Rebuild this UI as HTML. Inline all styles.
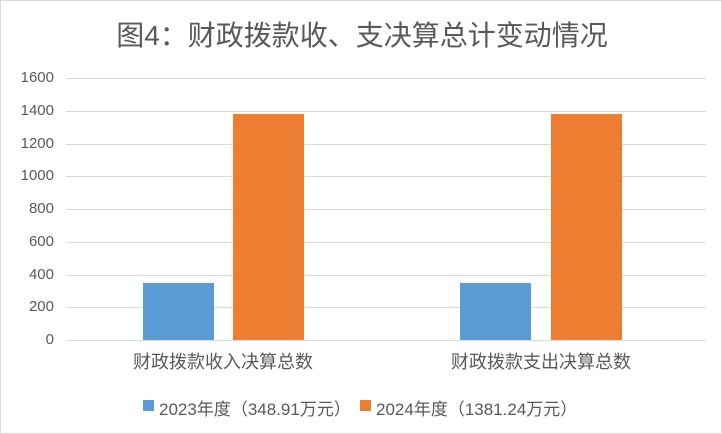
<!DOCTYPE html>
<html><head><meta charset="utf-8"><style>
body{margin:0;background:#fff}
#c{position:relative;width:720px;height:432px;border:1px solid #d9d9d9;background:#fff;overflow:hidden;font-family:"Liberation Sans","Noto Sans CJK SC",sans-serif;color:#595959}
.t{position:absolute;left:0;width:722px;top:13px;text-align:center;font-size:28px;color:#595959}
.g{position:absolute;left:65px;width:640px;height:1px;background:#d9d9d9}
.y{position:absolute;left:0;width:53px;text-align:right;font-size:15px;line-height:16px}
.b{position:absolute}
.x{position:absolute;top:347px;font-size:18px;text-align:center;width:300px}
.l{position:absolute;top:394px;font-size:17px;white-space:nowrap}
</style></head><body><div id="c">
<div class="t">图4：财政拨款收、支决算总计变动情况</div>
<div class="g" style="top:77px"></div><div class="y" style="top:69px">1600</div>
<div class="g" style="top:110px"></div><div class="y" style="top:102px">1400</div>
<div class="g" style="top:143px"></div><div class="y" style="top:135px">1200</div>
<div class="g" style="top:175px"></div><div class="y" style="top:167px">1000</div>
<div class="g" style="top:208px"></div><div class="y" style="top:200px">800</div>
<div class="g" style="top:241px"></div><div class="y" style="top:233px">600</div>
<div class="g" style="top:274px"></div><div class="y" style="top:266px">400</div>
<div class="g" style="top:306px"></div><div class="y" style="top:298px">200</div>
<div class="g" style="top:339px"></div><div class="y" style="top:331px">0</div>
<div class="b" style="left:142px;width:71px;top:282px;height:57px;background:#5b9bd5"></div>
<div class="b" style="left:232px;width:71px;top:113px;height:226px;background:#ed7d31"></div>
<div class="b" style="left:459px;width:71px;top:282px;height:57px;background:#5b9bd5"></div>
<div class="b" style="left:550px;width:71px;top:113px;height:226px;background:#ed7d31"></div>
<div class="x" style="left:72px">财政拨款收入决算总数</div>
<div class="x" style="left:390px">财政拨款支出决算总数</div>
<div class="b" style="left:142px;top:399px;width:11px;height:11px;background:#5b9bd5"></div>
<div class="l" style="left:158px">2023年度（348.91万元）</div>
<div class="b" style="left:359px;top:399px;width:11px;height:11px;background:#ed7d31"></div>
<div class="l" style="left:375px">2024年度（1381.24万元）</div>
</div></body></html>
